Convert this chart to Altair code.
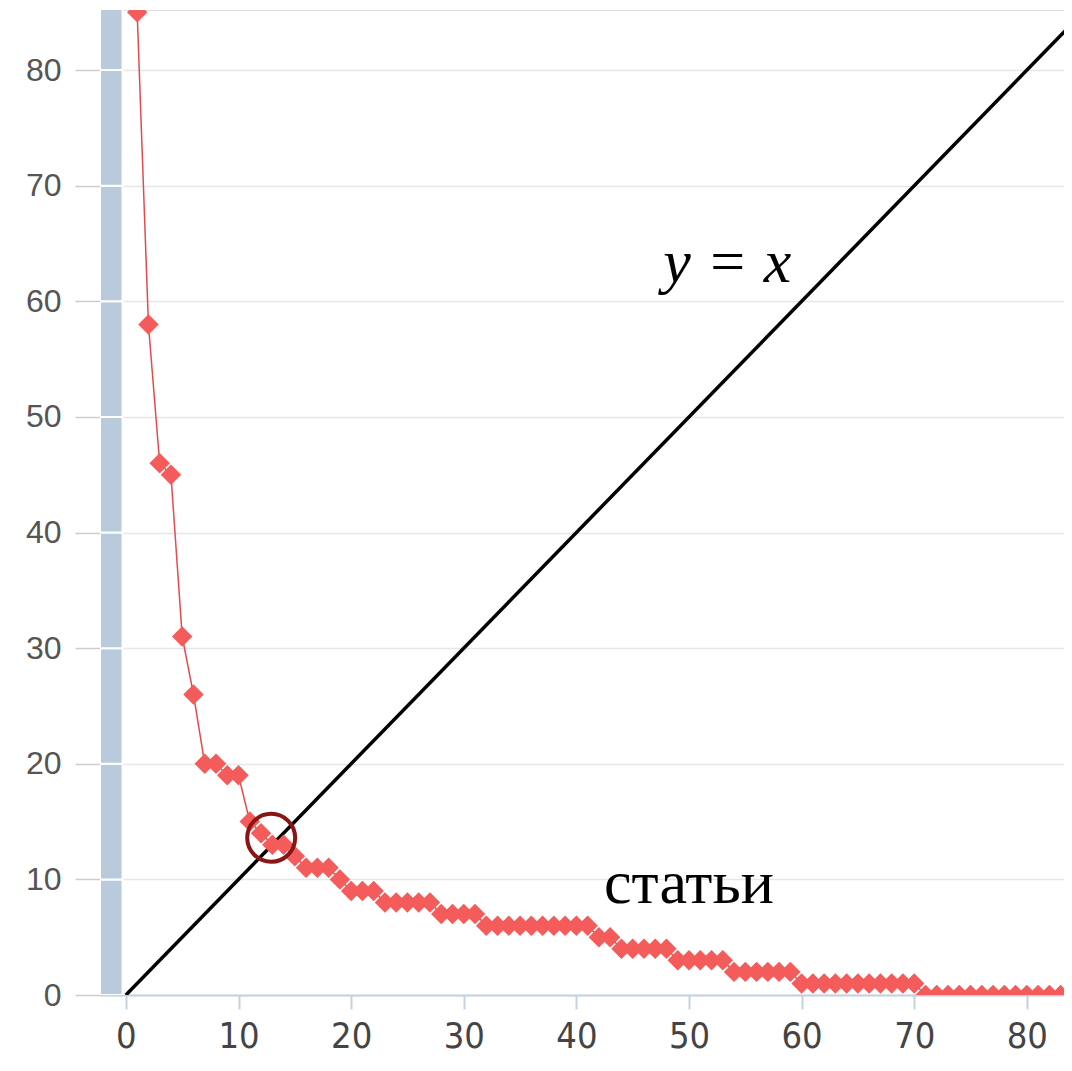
import altair as alt
import pandas as pd

# ---- data ----
papers = list(range(1, 85))
citations = [
    85, 58, 46, 45, 31, 26, 20, 20, 19, 19,
    15, 14, 13, 13, 12, 11, 11, 11, 10, 9,
    9, 9, 8, 8, 8, 8, 8, 7, 7, 7,
    7, 6, 6, 6, 6, 6, 6, 6, 6, 6,
    6, 5, 5, 4, 4, 4, 4, 4, 3, 3,
    3, 3, 3, 2, 2, 2, 2, 2, 2, 1,
    1, 1, 1, 1, 1, 1, 1, 1, 1, 1,
    0, 0, 0, 0, 0, 0, 0, 0, 0, 0,
    0, 0, 0, 0,
]
diag_x = [0, 90]
diag_y = [0, 90]
tick_values = [0, 10, 20, 30, 40, 50, 60, 70, 80]
band_lo = [0, 10, 20, 30, 40, 50, 60, 70, 80]
band_hi = [10, 20, 30, 40, 50, 60, 70, 80, 86]
h_point_x = [12.9]
h_point_y = [13.6]
label_yx = ["y = x"]
label_papers = ["статьи"]

X_MIN, X_MAX = -2.3, 83.3
Y_MIN, Y_MAX = 0, 85.2

xscale = alt.Scale(domain=[X_MIN, X_MAX], nice=False, zero=False)
yscale = alt.Scale(domain=[Y_MIN, Y_MAX], nice=False, zero=False)

df = pd.DataFrame({"x": papers, "y": citations})
diag = pd.DataFrame({"x": diag_x, "y": diag_y})
band = pd.DataFrame({"lo": band_lo, "hi": band_hi})
hp = pd.DataFrame({"x": h_point_x, "y": h_point_y})

x_axis = alt.Axis(
    values=tick_values, title=None, grid=False,
    labelFont="Liberation Sans Narrow, DejaVu Sans Condensed, Liberation Sans",
    labelFontSize=36, labelColor="#444444", labelPadding=10,
    tickColor="#c4d2e0", tickSize=14, tickWidth=2,
    domainColor="#c4d2e0", domainWidth=2,
)
y_axis = alt.Axis(
    values=tick_values, title=None, grid=True,
    gridColor="#e6e6e6", gridWidth=1.5,
    domain=False, tickColor="#cccccc", tickSize=25, tickWidth=1.5,
    labelFont="Liberation Sans", labelFontSize=32, labelColor="#555555",
    labelPadding=14,
)


def X(field):
    return alt.X(field, scale=xscale, axis=x_axis, title=None)


def Y(field):
    return alt.Y(field, scale=yscale, axis=y_axis, title=None)


band_chart = alt.Chart(band).mark_rect(
    color="#b8cadc", stroke="white", strokeWidth=2, clip=True
).encode(
    x=alt.datum(X_MIN, scale=xscale, axis=x_axis, title=None),
    x2=alt.datum(-0.3),
    y=Y("lo:Q"),
    y2="hi:Q",
)

diag_chart = alt.Chart(diag).mark_line(
    color="black", strokeWidth=3.5, clip=True
).encode(x=X("x:Q"), y=Y("y:Q"))

series_line = alt.Chart(df).mark_line(
    color="#e34a4f", strokeWidth=1.5, clip=True
).encode(x=X("x:Q"), y=Y("y:Q"))

series_pts = alt.Chart(df).mark_point(
    shape="diamond", filled=True, color="#f45b5b", size=420, opacity=1, clip=True
).encode(x=X("x:Q"), y=Y("y:Q"))

circle = alt.Chart(hp).mark_point(
    shape="circle", filled=False, stroke="#8b1414", strokeWidth=4, size=2300, opacity=1
).encode(x=X("x:Q"), y=Y("y:Q"))

txt_yx = alt.Chart(pd.DataFrame({"t": label_yx})).mark_text(
    font="Liberation Serif, Times New Roman, serif", fontStyle="italic",
    fontSize=62, color="black", align="center", baseline="alphabetic",
).encode(
    x=alt.datum(53.4, scale=xscale, axis=x_axis, title=None),
    y=alt.datum(61.7, scale=yscale, axis=y_axis, title=None),
    text="t:N",
)

txt_papers = alt.Chart(pd.DataFrame({"t": label_papers})).mark_text(
    font="Liberation Serif, Times New Roman, serif",
    fontSize=62, color="black", align="center", baseline="alphabetic",
).encode(
    x=alt.datum(50.0, scale=xscale, axis=x_axis, title=None),
    y=alt.datum(8.0, scale=yscale, axis=y_axis, title=None),
    text="t:N",
)

chart = alt.layer(
    band_chart, diag_chart, series_line, series_pts, circle, txt_yx, txt_papers
).properties(
    width=964, height=985,
    autosize=alt.AutoSizeParams(type="none"),
    padding={"left": 92, "top": 2, "right": 0, "bottom": 68},
).configure_view(stroke=None).configure(background="white")

chart.save("out.html", embed_options={"renderer": "svg", "actions": False})
